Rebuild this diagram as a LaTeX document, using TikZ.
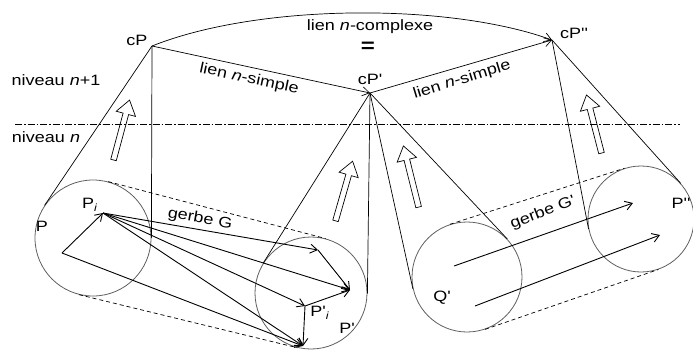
\documentclass[tikz,border=0pt]{standalone}
\usepackage{fontspec}
\setmainfont{Liberation Sans}[FakeStretch=1.2, Ligatures=TeXOff]
\usetikzlibrary{arrows.meta, shapes.arrows, calc}
\definecolor{ringgray}{RGB}{95,95,95}

\begin{document}
\begin{tikzpicture}[x=1pt, y=-1pt,
      lbl/.style={font=\fontsize{15}{17}\selectfont, inner sep=0pt},
      ring/.style={circle, draw=ringgray, line width=0.8pt, inner sep=0pt},
      cone/.style={line width=0.7pt},
      vec/.style={line width=0.9pt, -{Straight Barb[length=7pt, width=9pt]}},
      sheaf/.style={line width=0.7pt, dash pattern=on 4pt off 3pt},
      lift/.style={single arrow, draw, line width=0.7pt, inner sep=2.5pt, minimum width=11pt, single arrow tip angle=70},
      level/.style={line width=0.7pt, dash pattern=on 7pt off 2pt on 1.5pt off 2pt}
   ]
      \useasboundingbox (0,0) rectangle (693,353);

      % Levels
      \coordinate (lvlL) at (15,124);
      \coordinate (lvlR) at (680,124);
      \draw[level] (lvlL) -- (lvlR);
      \node (niv1) [lbl] at (56,80)  {niveau \textit{n}+1};
      \node (niv0) [lbl] at (46,137) {niveau \textit{n}};

      % Level n+1 points
      \coordinate (cP)   at (152,46);
      \coordinate (cPp)  at (370,93);
      \coordinate (cPpp) at (552,40);
      \node (lcP)   [lbl] at (137,40) {cP};
      \node (lcPp)  [lbl] at (370,79) {cP'};
      \node (lcPpp) [lbl] at (574,33) {cP''};

      % Links between the points
      \draw[vec, line width=0.7pt] (cP) .. controls (260,3) and (450,3) .. (cPpp);
      \draw[vec, line width=0.7pt] (cP) -- (cPp);
      \draw[vec, line width=0.7pt] (cPp) -- (cPpp);
      \node (cplx) [lbl] at (370,27) {lien \textit{n}-complexe};
      \node (eq)   [lbl, font=\fontsize{20}{22}\selectfont\bfseries] at (368,47) {=};
      \node (smp1) [lbl, rotate=-12] at (249,79) {lien \textit{n}-simple};
      \node (smp2) [lbl, rotate=17]  at (462,80) {lien \textit{n}-simple};

      % Level n circles
      \node (cirP)   [ring, minimum size=116pt] at (93,238)  {};
      \node (cirPp)  [ring, minimum size=112pt] at (311,293) {};
      \node (cirQ)   [ring, minimum size=110pt] at (467,277) {};
      \node (cirPpp) [ring, minimum size=106pt] at (641,219) {};
      \node (lP)   [lbl] at (42,226)  {P};
      \node (lPi)  [lbl] at (90,205)  {P\textsubscript{\textit{i}}};
      \node (lPpi) [lbl] at (320,313) {P'\textsubscript{\textit{i}}};
      \node (lPp)  [lbl] at (347,328) {P'};
      \node (lQ)   [lbl] at (442,298) {Q'};
      \node (lPpp) [lbl] at (681,203) {P''};

      % Cones from each point down to its circle
      \draw[cone] (cP)   -- (tangent cs:node=cirP, point={(cP)}, solution=1);
      \draw[cone] (cP)   -- (tangent cs:node=cirP, point={(cP)}, solution=2);
      \draw[cone] (cPp)  -- (tangent cs:node=cirPp, point={(cPp)}, solution=1);
      \draw[cone] (cPp)  -- (tangent cs:node=cirPp, point={(cPp)}, solution=2);
      \draw[cone] (cPp)  -- (tangent cs:node=cirQ, point={(cPp)}, solution=1);
      \draw[cone] (cPp)  -- (tangent cs:node=cirQ, point={(cPp)}, solution=2);
      \draw[cone] (cPpp) -- (tangent cs:node=cirPpp, point={(cPpp)}, solution=1);
      \draw[cone] (cPpp) -- (tangent cs:node=cirPpp, point={(cPpp)}, solution=2);

      % Sheaf G
      \draw[sheaf] (cirP.75.8)   -- (cirPp.75.8);
      \draw[sheaf] (cirP.-104.2) -- (cirPp.-104.2);
      \node (gG) [lbl, rotate=-10] at (200,219) {gerbe G};
      \coordinate (o)   at (62,253);
      \coordinate (Pi)  at (103,213);
      \coordinate (a)   at (318,250);
      \coordinate (b)   at (350,290);
      \coordinate (Ppi) at (305,306);
      \coordinate (d)   at (303,346);
      \draw[vec] (o) -- (Pi);
      \draw[vec] (o) -- (d);
      \foreach \t in {a,b,Ppi,d}
         \draw[vec] (Pi) -- (\t);
      \draw[vec] (a)   -- (b);
      \draw[vec] (Ppi) -- (b);
      \draw[vec] (Ppi) -- (d);

      % Sheaf G'
      \draw[sheaf] (cirQ.108.4) -- (cirPpp.108.4);
      \draw[sheaf] (cirQ.-71.6) -- (cirPpp.-71.6);
      \node (gGp) [lbl, rotate=21] at (543,213) {gerbe G'};
      \coordinate (e1) at (454,266);
      \coordinate (f1) at (633,203);
      \coordinate (e2) at (475,306);
      \coordinate (f2) at (660,235);
      \draw[vec] (e1) -- (f1);
      \draw[vec] (e2) -- (f2);

      % Hollow arrows going up a level
      \node (up1) [lift, minimum height=62pt, rotate=75]    at (121,132)   {};
      \node (up2) [lift, minimum height=62pt, rotate=74]    at (343.5,193) {};
      \node (up3) [lift, minimum height=63pt, rotate=104]   at (411.5,178.5) {};
      \node (up4) [lift, minimum height=60pt, rotate=104.5] at (594.5,126) {};
   \end{tikzpicture}
\end{document}
